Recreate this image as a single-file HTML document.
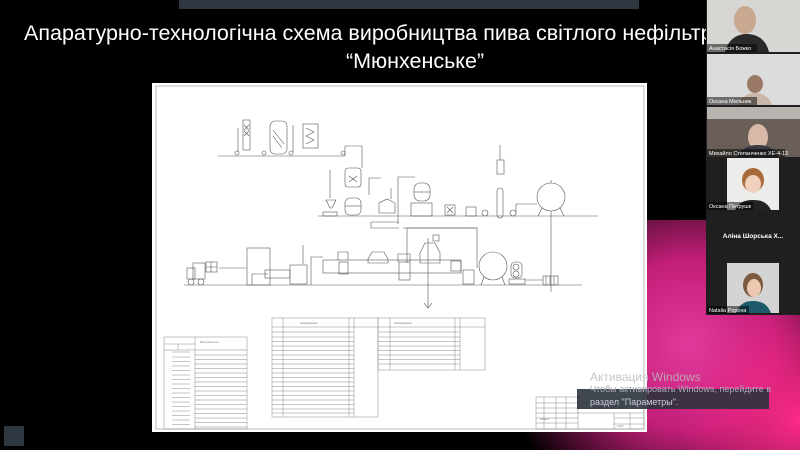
<!DOCTYPE html>
<html><head><meta charset="utf-8"><style>
html,body{margin:0;padding:0;background:#000;width:800px;height:450px;overflow:hidden}
svg{display:block}
</style></head><body>
<svg width="800" height="450" viewBox="0 0 800 450" xmlns="http://www.w3.org/2000/svg" font-family="Liberation Sans, sans-serif">
<defs>
<radialGradient id="pk" cx="690" cy="345" r="190" gradientUnits="userSpaceOnUse">
<stop offset="0" stop-color="#e23a9c"/>
<stop offset="0.45" stop-color="#c21f78"/>
<stop offset="1" stop-color="#000"/>
</radialGradient>
<radialGradient id="pk2" cx="800" cy="420" r="120" gradientUnits="userSpaceOnUse">
<stop offset="0" stop-color="#ff2a8a"/>
<stop offset="1" stop-color="#ff2a8a" stop-opacity="0"/>
</radialGradient>
</defs>
<rect width="800" height="450" fill="#000"/>
<rect x="420" y="220" width="380" height="230" fill="url(#pk)"/>
<rect x="620" y="300" width="180" height="150" fill="url(#pk2)"/>
<rect x="179" y="0" width="460" height="9" fill="#2e3640"/>
<rect x="4" y="426" width="20" height="20" fill="#2e3640"/>

<text x="24" y="40" fill="#fff" font-size="21.5">Апаратурно-технологічна схема виробництва пива світлого нефільтрованого</text>
<text x="415" y="68" fill="#fff" font-size="21.5" text-anchor="middle">“Мюнхенське”</text>

<!-- sheet -->
<rect x="152" y="83" width="495" height="349" fill="#fff"/>
<rect x="156" y="86" width="488" height="343" fill="none" stroke="#aaa" stroke-width="0.8"/>
<g stroke="#555" stroke-width="0.6" fill="none">
<!-- top group -->
<line x1="218" y1="156" x2="345" y2="156"/>
<rect x="243" y="120" width="7" height="30"/>
<path d="M244 125l5 5M249 125l-5 5M244 131l5 5M249 131l-5 5"/>
<line x1="238" y1="128" x2="238" y2="152"/>
<rect x="270" y="121" width="17" height="33" rx="5"/>
<path d="M273 130l11 14M273 136l9 12"/>
<line x1="293" y1="125" x2="293" y2="152"/>
<rect x="303" y="124" width="15" height="24"/>
<path d="M306 128l8 4-8 4 8 4-8 4"/>
<circle cx="237" cy="153" r="2"/><circle cx="264" cy="153" r="2"/><circle cx="291" cy="153" r="2"/><circle cx="343" cy="153" r="2"/>
<path d="M345 156v-10h17v22"/>
<!-- middle row -->
<line x1="318" y1="216" x2="598" y2="216"/>
<rect x="345" y="168" width="16" height="19" rx="3"/>
<path d="M349 176l8 6M357 176l-8 6"/>
<rect x="345" y="198" width="16" height="17" rx="5"/>
<line x1="345" y1="206" x2="361" y2="206"/>
<path d="M326 200h10l-4 8h-2z"/>
<rect x="323" y="212" width="14" height="4"/>
<line x1="330" y1="170" x2="330" y2="198"/>
<path d="M369 195v-17h12"/>
<path d="M379 203l8-4 8 4v10h-16z"/>
<line x1="391" y1="188" x2="391" y2="199"/>
<path d="M371 222h28"/>
<path d="M398 224v-47h17"/>
<rect x="414" y="183" width="16" height="18" rx="6"/>
<line x1="414" y1="192" x2="430" y2="192"/>
<rect x="411" y="203" width="21" height="13"/>
<rect x="445" y="205" width="10" height="10"/>
<path d="M447 207l6 6M453 207l-6 6"/>
<rect x="466" y="207" width="10" height="9"/>
<circle cx="485" cy="213" r="3"/>
<rect x="497" y="188" width="6" height="30" rx="3"/>
<rect x="497" y="160" width="7" height="14"/>
<line x1="500" y1="145" x2="500" y2="160"/>
<circle cx="513" cy="213" r="3"/>
<path d="M516 213v-9h21"/>
<circle cx="551" cy="197" r="14"/>
<path d="M542 208l-4 8M560 208l4 8M551 183v-3"/>
<line x1="551" y1="211" x2="551" y2="292"/>
<path d="M371 222v6h28M403 228h74v40"/>
<!-- bottom row -->
<line x1="184" y1="285" x2="582" y2="285"/>
<rect x="193" y="263" width="12" height="16"/>
<rect x="187" y="268" width="8" height="11"/>
<circle cx="191" cy="282" r="3"/><circle cx="201" cy="282" r="3"/>
<rect x="206" y="262" width="11" height="10"/>
<path d="M206 267h11M211 262v10"/>
<line x1="219" y1="268" x2="246" y2="268"/>
<rect x="247" y="248" width="23" height="37"/>
<path d="M252 285v-11h16"/>
<rect x="265" y="270" width="25" height="8"/>
<rect x="290" y="265" width="17" height="19"/>
<line x1="303" y1="245" x2="303" y2="264"/>
<path d="M311 285v-28h12"/>
<rect x="323" y="260" width="138" height="13"/>
<path d="M338 260v-8h10v8M368 259l4-7h12l4 7v4h-20zM398 262v-8h12v8M420 253l5-10 10 0 5 10v10h-20z"/>
<rect x="339" y="262" width="9" height="12"/>
<rect x="399" y="262" width="11" height="18"/>
<rect x="451" y="261" width="10" height="10"/>
<rect x="433" y="235" width="6" height="6"/>
<line x1="428" y1="238" x2="428" y2="308"/>
<path d="M424 303l4 5 4-5"/>
<path d="M407 263v-35h70"/>
<rect x="463" y="270" width="11" height="14"/>
<circle cx="493" cy="266" r="14"/>
<path d="M484 277l-3 8M502 277l3 8"/>
<rect x="511" y="262" width="11" height="16" rx="4"/>
<circle cx="516" cy="267" r="3"/><circle cx="516" cy="274" r="3"/>
<rect x="509" y="279" width="16" height="5"/>
<rect x="543" y="276" width="15" height="9"/>
<path d="M546 276v9M550 276v9M554 276v9"/>
<line x1="525" y1="280" x2="543" y2="280"/>
</g>
<!-- tables -->
<g stroke="#888" stroke-width="0.5" fill="none">
<rect x="272" y="318" width="106" height="99"/>
<line x1="272" y1="327" x2="378" y2="327"/>
<line x1="283" y1="318" x2="283" y2="417"/>
<line x1="349" y1="318" x2="349" y2="417"/>
<line x1="354" y1="318" x2="354" y2="417"/>
<path d="M272 332h82M272 337h82M272 341.5h82M272 346h82M272 350.5h82M272 355h82M272 359.5h82M272 364h82M272 368.5h82M272 373h82M272 377.5h82M272 382h82M272 386.5h82M272 391h82M272 395.5h82M272 400h82M272 404.5h82M272 409h82M272 413h82"/>
<rect x="378" y="318" width="107" height="52"/>
<line x1="378" y1="327" x2="485" y2="327"/>
<line x1="390" y1="318" x2="390" y2="370"/>
<line x1="455" y1="318" x2="455" y2="370"/>
<line x1="460" y1="318" x2="460" y2="370"/>
<path d="M378 332h82M378 337h82M378 341.5h82M378 346h82M378 350.5h82M378 355h82M378 359.5h82M378 364h82"/>
<rect x="164" y="337" width="83" height="92"/>
<line x1="195" y1="337" x2="195" y2="429"/>
<line x1="164" y1="344" x2="195" y2="344"/>
<line x1="178" y1="344" x2="178" y2="350"/>
<line x1="164" y1="350" x2="247" y2="350"/>
<path d="M195 355h52M195 359.5h52M195 364h52M195 368.5h52M195 373h52M195 377.5h52M195 382h52M195 386.5h52M195 391h52M195 395.5h52M195 400h52M195 404.5h52M195 409h52M195 413.5h52M195 418h52M195 422.5h52M195 427h52"/>
<path d="M172 352h18M172 357h18M172 361.5h18M172 366h18M172 370.5h18M172 375h18M172 379.5h18M172 384h18M172 388.5h18M172 393h18M172 397.5h18M172 402h18M172 406.5h18M172 411h18M172 415.5h18M172 420h18M172 424.5h18"/>
<rect x="536" y="397" width="108" height="32"/>
<path d="M536 403h42M536 408h42M536 413h42M536 418h42M536 423h42M544 397v32M556 397v32M566 397v32M578 397v32M578 413h66M614 413v16M630 413v16M614 418h30M614 424h30"/>
</g>
<g font-size="2.6" fill="#777" font-style="italic">
<text x="300" y="324">Найменування</text><text x="394" y="324">Найменування</text>
<text x="200" y="343" font-size="3">Вид робочого</text>
<text x="540" y="420">Розроб.</text><text x="582" y="409">Схема апаратурно-технологічна</text>
<text x="617" y="427">ХНТУ</text>
</g>

<!-- windows activation -->
<text x="590" y="381" fill="#bbb" fill-opacity="0.85" font-size="12">Активация Windows</text>
<rect x="577" y="389" width="192" height="20" fill="#2b333c" fill-opacity="0.9"/>
<text x="590" y="392" fill="#aab" font-size="9">Чтобы активировать Windows, перейдите в</text>
<text x="590" y="405" fill="#ccd" font-size="9">раздел "Параметры".</text>

<!-- video column -->
<rect x="706" y="0" width="94" height="315" fill="#1f1f1f"/>
<rect x="707" y="0" width="93" height="52" fill="#d8d6d2"/>
<ellipse cx="745" cy="20" rx="11" ry="14" fill="#c8a890"/>
<path d="M725 52c4-16 16-18 22-18s18 2 22 18z" fill="#2a2a2a"/>
<rect x="707" y="44" width="50" height="8" fill="#000" fill-opacity="0.5"/>
<text x="709" y="50" fill="#fff" font-size="5.5">Анастасія Божко</text>
<rect x="707" y="54" width="93" height="51" fill="#dcdcdc"/>
<ellipse cx="755" cy="84" rx="8" ry="9" fill="#9a7a66"/>
<path d="M738 105c4-10 12-12 17-12s14 2 17 12z" fill="#c9b8a8"/>
<rect x="707" y="97" width="50" height="8" fill="#000" fill-opacity="0.5"/>
<text x="709" y="103" fill="#fff" font-size="5.5">Оксана Мельник</text>
<rect x="707" y="107" width="93" height="50" fill="#6a5e58"/>
<rect x="707" y="107" width="93" height="12" fill="#b8b4b0"/>
<ellipse cx="758" cy="137" rx="10" ry="13" fill="#d8b8a6"/>
<path d="M738 157c4-10 12-12 20-12s16 2 20 12z" fill="#3a3a40"/>
<rect x="707" y="149" width="78" height="8" fill="#000" fill-opacity="0.5"/>
<text x="709" y="155" fill="#fff" font-size="5.5">Михайло Степанченко ХЕ-4-13</text>
<rect x="727" y="158" width="52" height="52" fill="#ececea"/>
<ellipse cx="753" cy="180" rx="11" ry="12" fill="#a86a3a"/>
<ellipse cx="753" cy="184" rx="8" ry="9" fill="#f0d2bc"/>
<path d="M735 210c4-8 10-10 18-10s14 2 18 10z" fill="#222"/>
<rect x="707" y="202" width="46" height="8" fill="#000" fill-opacity="0.5"/>
<text x="709" y="208" fill="#fff" font-size="5.5">Оксана Петрушк</text>
<text x="753" y="238" fill="#fff" font-size="6.5" font-weight="bold" text-anchor="middle">Аліна Шорська Х...</text>
<rect x="727" y="263" width="52" height="50" fill="#d4d4d4"/>
<ellipse cx="753" cy="285" rx="10" ry="12" fill="#7a5a40"/>
<ellipse cx="754" cy="288" rx="7" ry="9" fill="#ecc8b0"/>
<path d="M736 313c4-10 10-12 17-12s14 2 18 12z" fill="#1e5a6a"/>
<rect x="707" y="306" width="42" height="8" fill="#000" fill-opacity="0.5"/>
<text x="709" y="312" fill="#fff" font-size="5.5">Natalia Popova</text>
</svg>
</body></html>
